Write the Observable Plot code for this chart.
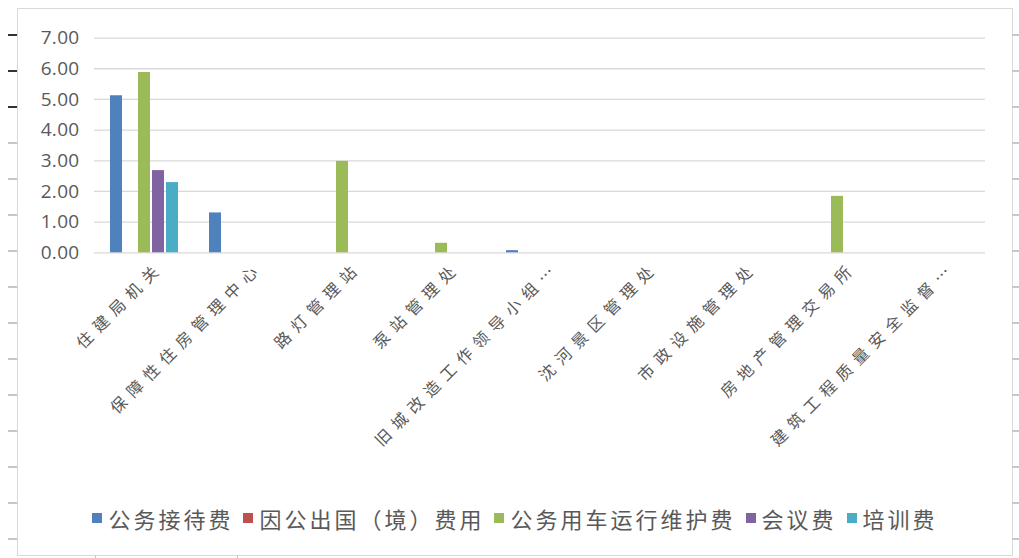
<!DOCTYPE html>
<html><head><meta charset="utf-8">
<script src="https://cdn.jsdelivr.net/npm/d3@7"></script>
<script src="https://cdn.jsdelivr.net/npm/@observablehq/plot@0.6"></script>
<style>
html,body{margin:0;padding:0;background:#fff;}
body{width:1019px;height:558px;position:relative;overflow:hidden;font-family:"Noto Sans CJK SC","Noto Sans",sans-serif;}
#frame{position:absolute;left:17px;top:8px;width:996px;height:548px;border:1px solid #d9d9d9;box-sizing:border-box;}
#chart{position:absolute;left:0;top:0;}
#chart svg{overflow:visible;}
#chart g[aria-label^="fx-axis"] text{font-size:16px;letter-spacing:7px;fill:#595959;font-family:"Noto Sans CJK SC",sans-serif;}
#chart g[aria-label^="y-axis"] text{font-size:19px;fill:#595959;font-family:"Open Sans","Liberation Sans",sans-serif;letter-spacing:0.3px;}
#legend{position:absolute;left:17px;top:500px;width:996px;display:flex;justify-content:center;align-items:center;color:#595959;font-size:22px;letter-spacing:3px;line-height:36px;}
#legend .item{display:flex;align-items:center;margin:0 5px;}
#legend .sw{width:10px;height:10px;margin-right:6px;}
.dec{position:absolute;background:#c8c8c8;}
</style>
</head><body>
<div id="frame"></div>
<div id="deco"></div>
<div id="chart"></div>
<div id="legend"></div>
<script>
const categories = ["住建局机关","保障性住房管理中心","路灯管理站","泵站管理处","旧城改造工作领导小组…","沈河景区管理处","市政设施管理处","房地产管理交易所","建筑工程质量安全监督…"];
const seriesNames = ["公务接待费","因公出国（境）费用","公务用车运行维护费","会议费","培训费"];
const reception = [5.12, 1.30, 0, 0, 0.07, 0, 0, 0, 0];
const abroad    = [0, 0, 0, 0, 0, 0, 0, 0, 0];
const vehicles  = [5.88, 0, 2.98, 0.31, 0, 0, 0, 1.84, 0];
const meetings  = [2.68, 0, 0, 0, 0, 0, 0, 0, 0];
const training  = [2.29, 0, 0, 0, 0, 0, 0, 0, 0];
const seriesValues = [reception, abroad, vehicles, meetings, training];
const colors = ["#4F81BD","#C0504D","#9BBB59","#8064A2","#4BACC6"];
const yTicks = [0,1,2,3,4,5,6,7];

const data = [];
categories.forEach((c,i) => seriesValues.forEach((vals,k) => data.push({category:c, series:seriesNames[k], value:vals[i]})));

const chart = Plot.plot({
  width: 1019, height: 500,
  marginTop: 37.6, marginBottom: 247.7, marginLeft: 94, marginRight: 34,
  style: {background:"transparent", color:"#595959", fontFamily:"Noto Sans CJK SC, sans-serif"},
  fx: {domain: categories, padding: 0, label: null},
  x: {domain: seriesNames, paddingInner: 0.17, paddingOuter: 0.907, axis: null},
  y: {domain: [0,7], ticks: 7, tickFormat: d3.format(".2f"), label: null, tickSize: 0, tickPadding: 15},
  color: {domain: seriesNames, range: colors},
  marks: [
    Plot.ruleY(yTicks, {stroke: "#d9d9d9", strokeWidth: 1.3}),
    Plot.barY(data, {fx: "category", x: "series", y: "value", fill: "series"}),
    Plot.axisFx({anchor: "bottom", label: null, tickSize: 0, tickPadding: 22, tickRotate: -45, dx: 17, dy: -10})
  ]
});
document.getElementById("chart").appendChild(chart);

const legend = document.getElementById("legend");
seriesNames.forEach((s,k) => {
  const it = document.createElement("div"); it.className = "item";
  const sw = document.createElement("div"); sw.className = "sw"; sw.style.background = colors[k];
  const tx = document.createElement("span"); tx.textContent = s;
  it.appendChild(sw); it.appendChild(tx); legend.appendChild(it);
});

// spreadsheet background row/column marks
const deco = document.getElementById("deco");
function mark(l,t,w,h,c){const d=document.createElement("div");d.className="dec";d.style.left=l+"px";d.style.top=t+"px";d.style.width=w+"px";d.style.height=h+"px";if(c)d.style.background=c;deco.appendChild(d);}
for(let i=0;i<15;i++){const y=34+i*36; mark(8,y,9,2,i<3?"#333":"#c8c8c8"); mark(1012,y,7,1.5,"#c8c8c8");}
mark(95,555,1,3); mark(237,555,1,3);
</script>
</body></html>
